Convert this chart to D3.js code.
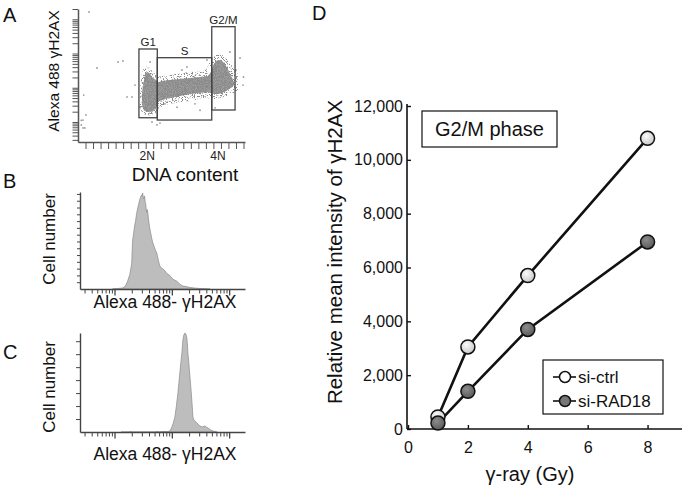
<!DOCTYPE html>
<html>
<head>
<meta charset="utf-8">
<script src="https://cdn.jsdelivr.net/npm/d3@7"></script>
<style>
  body { margin: 0; background: #fff; }
  svg text { font-family: "Liberation Sans", Arial, Helvetica, sans-serif; }
</style>
</head>
<body>
<svg id="chart" width="685" height="490"></svg>
<script>
// ================= DATA =================
// Panel D: G2/M phase, relative mean intensity of γH2AX
const doses = [1, 2, 4, 8];
const siCtrl = [450, 3050, 5700, 10800];
const siRAD18 = [220, 1400, 3700, 6950];
const seriesNames = ["si-ctrl", "si-RAD18"];
const yTicksD = [0, 2000, 4000, 6000, 8000, 10000, 12000];
const xTicksD = [0, 2, 4, 6, 8];

// Panel A: DNA content (channel) vs Alexa 488 γH2AX (log)
const gateNames = ["G1", "S", "G2/M"];
const gateChLow = [405, 527, 889];
const gateChHigh = [527, 889, 1044];
const gateValLow = [13.3, 11.4, 22.4];
const gateValHigh = [1357, 756, 6084];
const dnaTickVals = [460, 930];
const dnaTickLabels = ["2N", "4N"];
// dense part of the cell cloud (channel, upper, lower)
const cloudDenseCh = [425, 439, 459, 479, 498, 518, 532, 558, 612, 678, 744, 811, 864, 884, 904, 931, 957, 984, 1004, 1024, 1037];
const cloudDenseHi = [57, 169, 289, 252, 193, 169, 147, 158, 169, 180, 193, 206, 221, 289, 495, 647, 605, 432, 289, 193, 147];
const cloudDenseLo = [34, 22, 20, 20, 21, 26, 38, 44, 50, 57, 66, 70, 75, 70, 66, 66, 70, 80, 92, 105, 120];
// sparse halo of the cloud
const cloudSparseCh = [412, 432, 459, 492, 525, 558, 645, 744, 844, 877, 911, 944, 984, 1024, 1063];
const cloudSparseHi = [75, 330, 432, 330, 221, 221, 252, 289, 330, 566, 848, 970, 741, 432, 252];
const cloudSparseLo = [26, 18, 16, 16, 20, 29, 36, 41, 50, 47, 47, 50, 57, 66, 86];
// scattered single events
const outlierCh = [73, 126, 266, 299, 326, 359, 53, 33, 33, 379, 412, 545, 658, 811, 724, 857, 1010, 1100, 525, 1077, 911, 38, 22, 22, 45, 578, 778, 691, 1050, 1097, 479, 492];
const outlierVal = [16370, 378, 566, 605, 54, 54, 16, 11.4, 6.7, 120, 27, 9.3, 27, 22, 404, 647, 1109, 206, 8.2, 741, 26, 61, 11.2, 8.2, 6.7, 34, 34, 330, 330, 120, 566, 10];

// Panel B histogram (Alexa 488-γH2AX intensity, cell number)
const histBIntensity = [92, 113, 138, 155, 169, 185, 199, 207, 216, 224, 233, 243, 258, 275, 286, 298, 304, 310, 316, 323, 330, 336, 343, 350, 357, 364, 371, 379, 395, 411, 430, 447, 464, 490, 518, 546, 580, 615, 650, 690, 753, 820, 922, 1050, 1224, 1380, 1560, 1800, 2070, 2500, 3100, 3800, 4640];
const histBCount = [0, 0.5, 1, 3, 8, 15, 26, 50, 58, 65, 70, 78, 85, 92, 95, 97, 96, 99, 94, 93, 96, 95, 90, 88, 82, 79, 82, 80, 70, 63, 57, 52, 48, 44, 40, 37, 30, 24, 22, 21, 19, 16, 14, 10, 8, 5, 3, 2.5, 1.5, 1, 0.5, 0.3, 0];

// Panel C histogram
const histCIntensity = [130, 185, 190, 196, 540, 550, 560, 700, 851, 930, 1000, 1060, 1129, 1200, 1274, 1330, 1381, 1440, 1497, 1560, 1620, 1690, 1760, 1833, 1908, 1990, 2070, 2160, 2245, 2335, 2430, 2532, 2746, 3100, 3500, 3650, 3793, 4000, 4283, 4800, 5240, 6150];
const histCCount = [0, 0, 1, 0, 0, 1, 0, 0.5, 0.5, 1, 5, 9, 15, 26, 39, 50, 60, 71, 80, 93, 98, 100, 99, 95, 80, 68, 56, 43, 30, 15, 12, 11, 9, 6, 5, 6, 6, 5, 4, 2, 1, 0];

// ================= DRAW =================
const svg = d3.select("#chart");
const defs = svg.append("defs");

function radial(id, c0, c1) {
  const g = defs.append("radialGradient").attr("id", id).attr("cx", "40%").attr("cy", "35%").attr("r", "65%");
  g.append("stop").attr("offset", "0%").attr("stop-color", c0);
  g.append("stop").attr("offset", "100%").attr("stop-color", c1);
}
radial("gCtrl", "#fbfbfb", "#c9c9c9");
radial("gRad", "#8d8d8d", "#5a5a5a");

// grain texture used to render the cytometry cloud as speckles
function speckle(id, seed, slope, offset) {
  const f = defs.append("filter").attr("id", id)
    .attr("x", "-5%").attr("y", "-5%").attr("width", "110%").attr("height", "110%");
  f.append("feTurbulence").attr("type", "fractalNoise").attr("baseFrequency", 0.9)
    .attr("numOctaves", 1).attr("seed", seed).attr("result", "noise");
  f.append("feColorMatrix").attr("in", "noise").attr("type", "matrix")
    .attr("values", `0 0 0 0 0  0 0 0 0 0  0 0 0 0 0  ${slope} 0 0 0 ${offset}`).attr("result", "mask");
  f.append("feComposite").attr("in", "SourceGraphic").attr("in2", "mask").attr("operator", "in");
}
speckle("spk1", 4, 12, -6.4);
speckle("spk2", 9, 9, -4.0);

function letter(t, x, y) {
  svg.append("text").attr("x", x).attr("y", y).attr("font-size", 20).attr("fill", "#111").text(t);
}

// ---------- Panel A ----------
const xA = d3.scaleLinear().domain([0, 1110]).range([78, 245]);
const yA = d3.scaleLog().domain([2.6, 20000]).range([142, 9]);
const gA = svg.append("g");
const areaA = d3.area()
  .x(d => xA(d[0])).y0(d => yA(d[2])).y1(d => yA(d[1]))
  .curve(d3.curveCatmullRom);
gA.append("path").datum(d3.zip(cloudSparseCh, cloudSparseHi, cloudSparseLo))
  .attr("d", areaA).attr("fill", "#8a8a8a").attr("filter", "url(#spk1)");
gA.append("path").datum(d3.zip(cloudDenseCh, cloudDenseHi, cloudDenseLo))
  .attr("d", areaA).attr("fill", "#868686").attr("filter", "url(#spk2)");
gA.append("path").datum(d3.zip(cloudDenseCh, cloudDenseHi, cloudDenseLo))
  .attr("d", areaA).attr("fill", "#8c8c8c").attr("opacity", 0.85);
gA.selectAll("circle.out").data(d3.zip(outlierCh, outlierVal)).join("circle")
  .attr("class", "out")
  .attr("cx", d => xA(d[0])).attr("cy", d => yA(d[1])).attr("r", 0.9).attr("fill", "#9a9a9a");

gateNames.forEach((name, i) => {
  const x0 = xA(gateChLow[i]), x1 = xA(gateChHigh[i]);
  const y0 = yA(gateValHigh[i]), y1 = yA(gateValLow[i]);
  gA.append("rect").attr("x", x0).attr("y", y0).attr("width", x1 - x0).attr("height", y1 - y0)
    .attr("fill", "none").attr("stroke", "#444").attr("stroke-width", 1.3);
  gA.append("text").attr("x", (x0 + x1) / 2).attr("y", y0 - 2.5).attr("text-anchor", "middle")
    .attr("font-size", 11.5).attr("fill", "#222").text(name);
});

const axAy = gA.append("g").attr("transform", "translate(78,0)")
  .call(d3.axisLeft(yA).tickValues(yA.ticks()).tickSize(5.5).tickSizeOuter(0).tickFormat(""));
const axAx = gA.append("g").attr("transform", "translate(0,142)")
  .call(d3.axisBottom(xA).tickValues(d3.range(50, 1101, 50)).tickSize(7).tickSizeOuter(0).tickFormat(""));
[axAy, axAx].forEach(a => {
  a.select(".domain").attr("stroke", "#555").attr("stroke-width", 1.5);
  a.selectAll(".tick line").attr("stroke", "#555").attr("stroke-width", 1);
});
dnaTickVals.forEach((v, i) => {
  gA.append("text").attr("x", xA(v)).attr("y", 160).attr("text-anchor", "middle")
    .attr("font-size", 12).attr("fill", "#222").text(dnaTickLabels[i]);
});
gA.append("text").attr("x", 185).attr("y", 181).attr("text-anchor", "middle")
  .attr("font-size", 19).attr("fill", "#111").text("DNA content");
gA.append("text").attr("transform", "translate(58.5,71) rotate(-90)").attr("text-anchor", "middle")
  .attr("font-size", 15.5).attr("fill", "#111").text("Alexa 488 γH2AX");
letter("A", 3, 22);

// ---------- Panels B & C ----------
function histPanel(intens, counts, base, top, labelY, xLabY, yTickStep, yTickLen) {
  const g = svg.append("g");
  const x = d3.scaleLog().domain([25, 18900]).range([80, 245]);
  const y = d3.scaleLinear().domain([0, 100]).range([base, top]);
  const area = d3.area().x(d => x(d[0])).y0(y(0)).y1(d => y(d[1]));
  g.append("path").datum(d3.zip(intens, counts)).attr("d", area)
    .attr("fill", "#bdbdbd").attr("stroke", "#8a8a8a").attr("stroke-width", 0.7);
  const ya = g.append("g").attr("transform", "translate(80,0)")
    .call(d3.axisLeft(y).tickValues(d3.range(yTickStep, 100, yTickStep)).tickSize(yTickLen).tickSizeOuter(0).tickFormat(""));
  const xa = g.append("g").attr("transform", `translate(0,${base})`)
    .call(d3.axisBottom(x).tickValues(x.ticks()).tickSize(4.5).tickSizeOuter(0).tickFormat(""));
  xa.selectAll(".tick line")
    .attr("y2", d => Math.abs(Math.log10(d) - Math.round(Math.log10(d))) < 1e-9 ? 6.5 : 4.5)
    .attr("stroke-width", d => Math.abs(Math.log10(d) - Math.round(Math.log10(d))) < 1e-9 ? 1.3 : 1);
  [ya, xa].forEach(a => {
    a.select(".domain").attr("stroke", "#444").attr("stroke-width", 1.4);
    a.selectAll(".tick line").attr("stroke", "#444");
  });
  g.append("text").attr("transform", `translate(55,${labelY}) rotate(-90)`).attr("text-anchor", "middle")
    .attr("font-size", 17).attr("fill", "#111").text("Cell number");
  g.append("text").attr("x", 165).attr("y", xLabY).attr("text-anchor", "middle")
    .attr("font-size", 17.5).attr("fill", "#111").text("Alexa 488- γH2AX");
}
histPanel(histBIntensity, histBCount, 289, 192, 239, 307.5, 7, 3);
letter("B", 3, 188);
histPanel(histCIntensity, histCCount, 432, 333, 387, 460, 13.1, 4);
letter("C", 3, 359);

// ---------- Panel D ----------
const xD = d3.scaleLinear().domain([0, 9.15]).range([408, 682]);
const yD = d3.scaleLinear().domain([0, 12000]).range([429, 106]);
const gD = svg.append("g");
const axDy = gD.append("g").attr("transform", "translate(407,0)")
  .call(d3.axisLeft(yD).tickValues(yTicksD).tickSize(-4).tickSizeOuter(0).tickPadding(4).tickFormat(d3.format(",")));
const axDx = gD.append("g").attr("transform", "translate(0,429)")
  .call(d3.axisBottom(xD).tickValues(xTicksD).tickSize(-4).tickSizeOuter(0).tickPadding(13));
axDy.select(".domain").attr("d", "M0,104V429");
axDx.select(".domain").attr("d", "M407,0H682");
[axDy, axDx].forEach(a => {
  a.select(".domain").attr("stroke", "#111").attr("stroke-width", 1.6);
  a.selectAll(".tick line").attr("stroke", "#111").attr("stroke-width", 1.4);
  a.selectAll(".tick text").attr("font-size", 16).attr("fill", "#111")
    .attr("font-family", '"Liberation Sans", Arial, sans-serif');
});
gD.append("text").attr("transform", "translate(342,252) rotate(-90)").attr("text-anchor", "middle")
  .attr("font-size", 20.5).attr("fill", "#111").text("Relative mean intensity of γH2AX");
gD.append("text").attr("x", 530).attr("y", 481).attr("text-anchor", "middle")
  .attr("font-size", 20).attr("fill", "#111").text("γ-ray (Gy)");

// title box
gD.append("rect").attr("x", 422).attr("y", 111).attr("width", 135).attr("height", 36)
  .attr("fill", "#fff").attr("stroke", "#111").attr("stroke-width", 1.2);
gD.append("text").attr("x", 489.5).attr("y", 136).attr("text-anchor", "middle")
  .attr("font-size", 20).attr("fill", "#111").text("G2/M phase");

const line = d3.line().x(d => xD(d[0])).y(d => yD(d[1]));
const series = [
  { name: seriesNames[0], vals: siCtrl, fill: "url(#gCtrl)", legendFill: "#fff" },
  { name: seriesNames[1], vals: siRAD18, fill: "url(#gRad)", legendFill: "#777" }
];
series.forEach(s => {
  const pts = d3.zip(doses, s.vals);
  gD.append("path").datum(pts).attr("d", line).attr("fill", "none")
    .attr("stroke", "#111").attr("stroke-width", 2.6);
});
series.forEach(s => {
  const pts = d3.zip(doses, s.vals);
  gD.selectAll(null).data(pts).join("circle")
    .attr("cx", d => xD(d[0])).attr("cy", d => yD(d[1])).attr("r", 7)
    .attr("fill", s.fill).attr("stroke", "#111").attr("stroke-width", 1.5);
});

// legend
gD.append("rect").attr("x", 543).attr("y", 360).attr("width", 120).attr("height", 54)
  .attr("fill", "#fff").attr("stroke", "#111").attr("stroke-width", 1.2);
series.forEach((s, i) => {
  const yy = 377 + i * 24;
  gD.append("line").attr("x1", 553).attr("x2", 576).attr("y1", yy).attr("y2", yy)
    .attr("stroke", "#111").attr("stroke-width", 1.6);
  gD.append("circle").attr("cx", 565).attr("cy", yy).attr("r", 5.5)
    .attr("fill", s.legendFill).attr("stroke", "#111").attr("stroke-width", 1.5);
  gD.append("text").attr("x", 578).attr("y", yy).attr("dy", "0.36em")
    .attr("font-size", 17).attr("fill", "#111").text(s.name);
});
letter("D", 312, 20);
</script>
</body>
</html>
